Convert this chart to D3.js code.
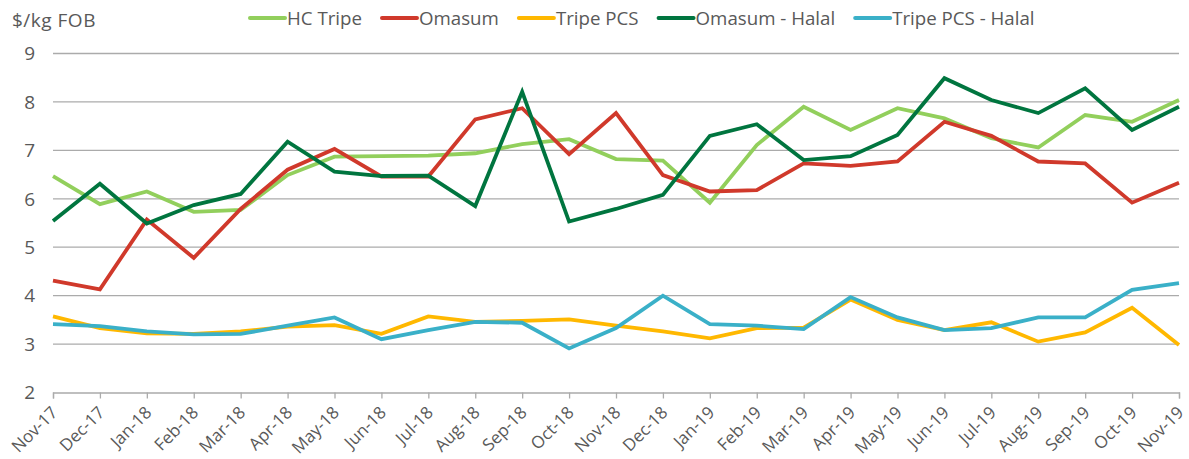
<!DOCTYPE html>
<html><head><meta charset="utf-8">
<script src="https://cdn.jsdelivr.net/npm/d3@7"></script>
<style>
body{margin:0;background:#fff;}
text{font-family:"Open Sans",Lato,sans-serif;fill:#595959;}
</style></head>
<body><svg id="c" width="1189" height="459"></svg>
<script>
const months = ["Nov-17","Dec-17","Jan-18","Feb-18","Mar-18","Apr-18","May-18","Jun-18","Jul-18","Aug-18","Sep-18","Oct-18","Nov-18","Dec-18","Jan-19","Feb-19","Mar-19","Apr-19","May-19","Jun-19","Jul-19","Aug-19","Sep-19","Oct-19","Nov-19"];
const hcTripe     = [6.47,5.89,6.15,5.73,5.77,6.49,6.87,6.88,6.89,6.94,7.13,7.23,6.82,6.79,5.92,7.11,7.90,7.42,7.87,7.66,7.25,7.06,7.73,7.59,8.04];
const omasum      = [4.31,4.13,5.57,4.78,5.79,6.60,7.03,6.46,6.46,7.64,7.87,6.92,7.77,6.49,6.15,6.18,6.73,6.68,6.77,7.59,7.30,6.77,6.73,5.92,6.33];
const tripePCS    = [3.57,3.33,3.22,3.21,3.26,3.36,3.39,3.21,3.57,3.46,3.48,3.51,3.38,3.26,3.12,3.33,3.34,3.92,3.50,3.29,3.45,3.05,3.24,3.75,2.98];
const omasumHalal = [5.54,6.31,5.49,5.87,6.10,7.18,6.56,6.47,6.48,5.85,8.21,5.53,5.79,6.08,7.30,7.54,6.80,6.88,7.32,8.49,8.04,7.77,8.28,7.42,7.90];
const tripeHalal  = [3.41,3.37,3.26,3.20,3.21,3.38,3.55,3.10,3.29,3.46,3.44,2.91,3.33,4.00,3.41,3.38,3.31,3.97,3.55,3.29,3.33,3.55,3.55,4.12,4.26];
const seriesNames = ["HC Tripe","Omasum","Tripe PCS","Omasum - Halal","Tripe PCS - Halal"];
const seriesColors = ["#92CF5C","#D0392B","#FFB800","#00753F","#3AB0C8"];
const yTicks = [2,3,4,5,6,7,8,9];
const yTitle = "$/kg FOB";

const series = [hcTripe, omasum, tripePCS, omasumHalal, tripeHalal];
const svg = d3.select("#c");
const L = 53, R = 1179, T = 53.5, B = 392.5;
const x = d3.scalePoint().domain(months).range([L, R]);
const y = d3.scaleLinear().domain([2, 9]).range([B, T]);

// gridlines
svg.append("g").selectAll("line").data(yTicks.filter(d => d !== 2)).join("line")
  .attr("x1", L).attr("x2", R).attr("y1", d => y(d)).attr("y2", d => y(d))
  .attr("stroke", "#ABABAB").attr("stroke-width", 1.3);

// y labels
svg.append("g").selectAll("text").data(yTicks).join("text")
  .attr("x", 35).attr("y", d => y(d)).attr("dy", "0.36em")
  .attr("text-anchor", "end").attr("font-size", 19).text(d => d);

svg.append("text").attr("x", 12).attr("y", 27).attr("font-size", 19)
  .attr("letter-spacing", 0.5).text(yTitle);

// x axis
const xa = svg.append("g").attr("transform", `translate(0,${B})`)
  .call(d3.axisBottom(x).tickSize(6).tickPadding(4));
xa.select(".domain").attr("stroke", "#ABABAB").attr("stroke-width", 1.3);
xa.selectAll(".tick line").attr("stroke", "#ABABAB").attr("stroke-width", 1.3);
xa.selectAll(".tick text").attr("font-size", 17).attr("fill", "#595959")
  .attr("font-family", '"Open Sans",Lato,sans-serif')
  .attr("x", 0).attr("y", 0)
  .attr("text-anchor", "end").attr("dy", "0.35em")
  .attr("transform", "translate(1,17) rotate(-45)");

// lines
const line = d3.line().x((d, i) => x(months[i])).y(d => y(d));
series.forEach((s, k) => {
  svg.append("path").datum(s).attr("d", line).attr("fill", "none")
    .attr("stroke", seriesColors[k]).attr("stroke-width", 3.8)
    .attr("stroke-linejoin", "miter");
});

// legend
const lg = svg.append("g");
let lx = 250;
seriesNames.forEach((n, k) => {
  lg.append("line").attr("x1", lx).attr("x2", lx + 35).attr("y1", 18).attr("y2", 18)
    .attr("stroke", seriesColors[k]).attr("stroke-width", 4).attr("stroke-linecap", "round");
  const t = lg.append("text").attr("x", lx + 37).attr("y", 18).attr("dy", "0.36em")
    .attr("font-size", 18.7).text(n);
  lx += 37 + t.node().getComputedTextLength() + 20;
});
</script></body></html>
